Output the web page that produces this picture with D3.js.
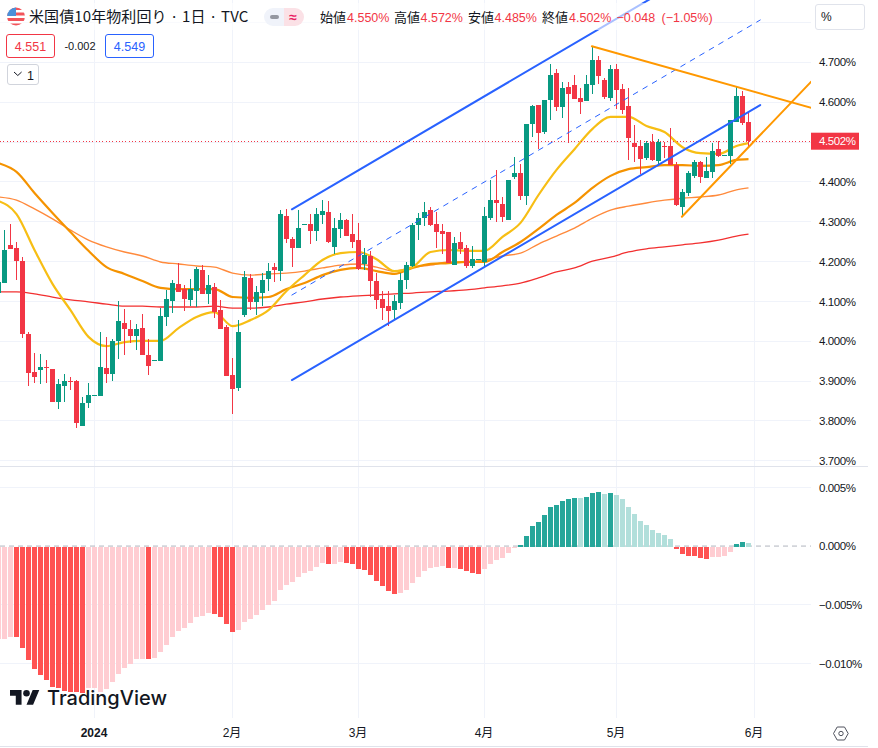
<!DOCTYPE html>
<html lang="ja"><head><meta charset="utf-8">
<script src="https://d3js.org/d3.v7.min.js"></script>
<style>
html,body{margin:0;padding:0;background:#fff}
svg{display:block}
text{font-family:"Liberation Sans","Noto Sans CJK JP",sans-serif}
</style></head><body>
<svg id="c" width="878" height="748"></svg>
<script>
const open=[4.121,4.146,4.242,4.234,4.201,4.018,3.923,3.928,3.935,3.930,3.847,3.888,3.900,3.900,3.787,3.845,3.863,3.863,3.933,3.918,4.001,4.046,4.031,4.013,4.033,3.965,3.950,3.950,4.061,4.101,4.144,4.131,4.104,4.126,4.179,4.119,4.136,4.078,4.036,3.915,3.883,4.066,4.159,4.099,4.121,4.156,4.186,4.176,4.314,4.257,4.234,4.292,4.294,4.277,4.317,4.324,4.237,4.282,4.304,4.269,4.254,4.194,4.214,4.151,4.106,4.088,4.078,4.096,4.154,4.189,4.292,4.309,4.329,4.294,4.277,4.274,4.191,4.249,4.234,4.189,4.204,4.199,4.309,4.354,4.344,4.304,4.412,4.422,4.365,4.545,4.593,4.525,4.605,4.673,4.588,4.638,4.643,4.610,4.603,4.643,4.706,4.656,4.610,4.683,4.633,4.590,4.497,4.490,4.460,4.500,4.452,4.490,4.490,4.442,4.337,4.372,4.415,4.450,4.410,4.425,4.482,4.465,4.465,4.550,4.615,4.550];
const high=[4.174,4.279,4.294,4.249,4.211,4.023,3.971,3.968,3.953,3.930,3.905,3.918,3.910,3.903,3.860,3.895,3.865,4.023,4.011,4.006,4.101,4.081,4.053,4.043,4.068,4.006,3.953,4.083,4.129,4.154,4.196,4.141,4.156,4.186,4.191,4.166,4.146,4.104,4.041,3.958,4.053,4.176,4.169,4.139,4.171,4.196,4.196,4.329,4.332,4.262,4.329,4.294,4.319,4.334,4.354,4.352,4.309,4.322,4.307,4.319,4.297,4.234,4.227,4.171,4.126,4.126,4.116,4.171,4.199,4.297,4.322,4.349,4.337,4.324,4.294,4.274,4.262,4.274,4.242,4.239,4.206,4.337,4.405,4.430,4.362,4.405,4.462,4.445,4.545,4.593,4.593,4.605,4.696,4.683,4.651,4.651,4.668,4.635,4.668,4.741,4.716,4.661,4.693,4.696,4.646,4.635,4.543,4.505,4.502,4.520,4.507,4.500,4.535,4.450,4.382,4.427,4.455,4.452,4.462,4.497,4.502,4.467,4.555,4.638,4.628,4.572];
const low=[4.106,4.146,4.232,4.154,4.008,3.888,3.895,3.893,3.895,3.847,3.830,3.847,3.878,3.782,3.787,3.832,3.863,3.863,3.895,3.900,3.955,3.965,3.996,3.978,3.965,3.915,3.950,3.950,4.038,4.071,4.124,4.076,4.088,4.086,4.119,4.093,4.058,4.031,3.913,3.817,3.875,4.061,4.078,4.066,4.088,4.126,4.149,4.151,4.247,4.186,4.234,4.292,4.244,4.252,4.294,4.247,4.219,4.259,4.264,4.234,4.179,4.179,4.111,4.081,4.053,4.038,4.056,4.081,4.131,4.186,4.254,4.289,4.289,4.234,4.219,4.196,4.191,4.219,4.184,4.184,4.204,4.189,4.304,4.299,4.299,4.304,4.407,4.354,4.342,4.513,4.482,4.520,4.555,4.578,4.560,4.497,4.608,4.570,4.603,4.620,4.646,4.608,4.603,4.583,4.570,4.455,4.450,4.420,4.455,4.452,4.440,4.460,4.442,4.339,4.314,4.365,4.410,4.397,4.410,4.410,4.462,4.465,4.445,4.550,4.543,4.485];
const close=[4.149,4.229,4.232,4.201,4.018,3.920,3.910,3.935,3.933,3.847,3.893,3.900,3.898,3.795,3.845,3.865,3.865,3.935,3.918,4.001,4.051,4.031,4.013,4.031,3.965,3.938,3.953,4.063,4.106,4.146,4.124,4.106,4.131,4.181,4.119,4.141,4.073,4.031,3.913,3.880,4.023,4.161,4.099,4.124,4.154,4.176,4.179,4.319,4.257,4.234,4.284,4.294,4.277,4.319,4.327,4.249,4.284,4.304,4.264,4.249,4.181,4.216,4.151,4.104,4.083,4.076,4.101,4.154,4.191,4.292,4.309,4.324,4.292,4.274,4.269,4.196,4.247,4.232,4.189,4.206,4.206,4.314,4.354,4.347,4.312,4.405,4.422,4.365,4.545,4.590,4.523,4.605,4.668,4.588,4.635,4.620,4.608,4.600,4.646,4.706,4.666,4.613,4.683,4.630,4.580,4.510,4.487,4.457,4.497,4.455,4.500,4.487,4.442,4.342,4.375,4.422,4.450,4.412,4.427,4.477,4.465,4.467,4.555,4.615,4.548,4.502];

// moving averages, read at every third bar plus the last bar
const maBars=d3.range(0,124,3).concat([125]);
const maYellow=[4.352,4.319,4.229,4.144,4.078,4.011,3.988,3.998,4.001,4.001,4.033,4.061,4.073,4.038,4.053,4.078,4.126,4.166,4.204,4.221,4.224,4.206,4.176,4.186,4.224,4.229,4.227,4.227,4.262,4.297,4.367,4.430,4.482,4.533,4.563,4.563,4.540,4.525,4.487,4.472,4.470,4.490,4.497];
const maOrange=[4.447,4.425,4.372,4.322,4.274,4.227,4.186,4.169,4.151,4.134,4.131,4.131,4.131,4.111,4.109,4.111,4.131,4.146,4.166,4.179,4.184,4.176,4.169,4.184,4.194,4.196,4.199,4.199,4.224,4.249,4.282,4.317,4.347,4.385,4.415,4.432,4.437,4.442,4.442,4.440,4.442,4.455,4.457];
const maThin=[4.362,4.354,4.332,4.307,4.279,4.254,4.237,4.224,4.214,4.199,4.194,4.189,4.186,4.171,4.166,4.169,4.171,4.176,4.184,4.191,4.194,4.186,4.176,4.186,4.191,4.199,4.199,4.204,4.214,4.221,4.244,4.264,4.284,4.309,4.329,4.339,4.347,4.354,4.359,4.362,4.367,4.380,4.385];
const maRed=[4.124,4.124,4.119,4.111,4.104,4.099,4.093,4.088,4.088,4.086,4.086,4.086,4.088,4.083,4.083,4.086,4.093,4.099,4.106,4.111,4.114,4.116,4.119,4.121,4.124,4.126,4.129,4.134,4.139,4.146,4.159,4.174,4.184,4.201,4.211,4.224,4.232,4.237,4.242,4.247,4.254,4.264,4.269];

const hist=[-0.00790,-0.00790,-0.00778,-0.00778,-0.00866,-0.00969,-0.01045,-0.01097,-0.01139,-0.01199,-0.01210,-0.01233,-0.01241,-0.01241,-0.01250,-0.01207,-0.01207,-0.01241,-0.01216,-0.01156,-0.01088,-0.01037,-0.01003,-0.00960,-0.00960,-0.00960,-0.00952,-0.00900,-0.00841,-0.00773,-0.00721,-0.00696,-0.00653,-0.00602,-0.00594,-0.00568,-0.00577,-0.00602,-0.00662,-0.00730,-0.00713,-0.00645,-0.00619,-0.00585,-0.00542,-0.00500,-0.00466,-0.00372,-0.00329,-0.00304,-0.00261,-0.00227,-0.00210,-0.00176,-0.00142,-0.00151,-0.00151,-0.00133,-0.00142,-0.00151,-0.00193,-0.00202,-0.00244,-0.00295,-0.00338,-0.00381,-0.00406,-0.00398,-0.00372,-0.00312,-0.00261,-0.00210,-0.00185,-0.00176,-0.00168,-0.00185,-0.00185,-0.00193,-0.00210,-0.00227,-0.00236,-0.00193,-0.00151,-0.00116,-0.00099,-0.00057,-0.00014,0.00005,0.00088,0.00173,0.00207,0.00267,0.00335,0.00352,0.00386,0.00403,0.00412,0.00412,0.00420,0.00454,0.00463,0.00446,0.00454,0.00437,0.00403,0.00335,0.00275,0.00216,0.00182,0.00139,0.00114,0.00097,0.00062,-0.00023,-0.00065,-0.00082,-0.00082,-0.00099,-0.00108,-0.00091,-0.00091,-0.00082,-0.00048,0.00020,0.00037,0.00028];
// 1 = strong colour, 0 = pale colour
const histStrong=("000"+"111111111111"+"0000000000"+"1"+"0000000000"+"1111"+"000000000000000"+"1"+"00"+"111111111"+"00000000"+"1"+"0"+"1111"+"000000"+"1111111111"+"0"+"111"+"0"+"1"+"0000000000"+"111111"+"0000"+"11"+"0").split("").map(Number);

const priceTicks=[4.7,4.6,4.5,4.4,4.3,4.2,4.1,4.0,3.9,3.8,3.7];
const priceGrid=[4.8,4.7,4.6,4.5,4.4,4.3,4.2,4.1,4.0,3.9,3.8,3.7];
const histTicks=[0.005,0,-0.005,-0.01];
const monthBars=[16,39,60,81,103,126];
const monthLabels=["2024","2月","3月","4月","5月","6月"];

const channelTop=[[48.9,4.3311],[108.6,4.8588]];
const channelMid=[[48.9,4.1160],[126.95,4.8061]];
const channelLow=[[48.9,3.9027],[126.95,4.5928]];
const wedgeTop=[[98.9,4.7401],[135.45,4.5860]];
const wedgeUp=[[113.9,4.3125],[135.45,4.6513]];

const ohlcTexts=[["始値",320,0],["4.550%",347,1],["高値",394,0],["4.572%",420.5,1],["安値",468,0],["4.485%",494.5,1],["終値",542,0],["4.502%",569,1],["−0.048",616.5,1],["(−1.05%)",661.5,1]];

const RED="#F23645",GREEN="#089981",BLUE="#2962FF",ORANGE="#FF9800",GRID="#F0F3FA",INK="#131722";
const svg=d3.select("#c");
const paneR=811;
const x=d3.scaleLinear().domain([0,125]).range([-1.5,748.5]);
const y=d3.scaleLinear().domain([4.7,3.7]).range([62.3,460.8]);
const h=d3.scaleLinear().domain([0.005,-0.01]).range([487.4,663.4]);
const defs=svg.append("defs");
defs.append("clipPath").attr("id","pMain").append("rect").attr("x",0).attr("y",0).attr("width",paneR).attr("height",466);
defs.append("clipPath").attr("id","pHist").append("rect").attr("x",0).attr("y",467).attr("width",paneR).attr("height",252);
defs.append("clipPath").attr("id","flag").append("circle").attr("cx",16).attr("cy",16.5).attr("r",9);

// grid
const grid=svg.append("g").attr("stroke",GRID).attr("stroke-width",1).attr("shape-rendering","crispEdges");
grid.selectAll("line.m").data(monthBars).join("line").attr("x1",d=>Math.floor(x(d))+.5).attr("x2",d=>Math.floor(x(d))+.5).attr("y1",0).attr("y2",718);
grid.selectAll("line.p").data(priceGrid).join("line").attr("x1",0).attr("x2",paneR).attr("y1",d=>Math.floor(y(d))+.5).attr("y2",d=>Math.floor(y(d))+.5);
grid.selectAll("line.h").data(histTicks.filter(d=>d!==0)).join("line").attr("x1",0).attr("x2",paneR).attr("y1",d=>Math.floor(h(d))+.5).attr("y2",d=>Math.floor(h(d))+.5);

// main pane
const main=svg.append("g").attr("clip-path","url(#pMain)");
const maLine=d3.line().x((d,i)=>x(maBars[i])).y(d=>y(d)).curve(d3.curveMonotoneX);
[[maRed,"#F23030",1.3],[maThin,"#FF8A3C",1.4],[maOrange,"#F59300",2.2],[maYellow,"#F7BE14",2.2]].forEach(([s,c,w])=>{
  main.append("path").datum(s).attr("d",maLine).attr("fill","none").attr("stroke",c).attr("stroke-width",w);
});
main.append("line").attr("x1",0).attr("x2",paneR).attr("y1",Math.floor(y(close[125]))+.5).attr("y2",Math.floor(y(close[125]))+.5).attr("stroke",RED).attr("stroke-dasharray","1 2.3").attr("shape-rendering","crispEdges");
const idx=d3.range(open.length);
const col=i=>close[i]>=open[i]?GREEN:RED;
const cg=main.append("g").attr("shape-rendering","crispEdges");
cg.selectAll("rect.w").data(idx).join("rect").attr("class","w").attr("x",i=>Math.floor(x(i))).attr("width",1).attr("y",i=>y(high[i])).attr("height",i=>y(low[i])-y(high[i])).attr("fill",col);
cg.selectAll("rect.b").data(idx).join("rect").attr("class","b").attr("x",i=>Math.floor(x(i))-2).attr("width",5)
  .attr("y",i=>y(Math.max(open[i],close[i]))).attr("height",i=>Math.max(1,Math.abs(y(open[i])-y(close[i])))).attr("fill",col);
const trend=d3.line().x(d=>x(d[0])).y(d=>y(d[1]));
[[channelTop,BLUE,2,null],[channelLow,BLUE,2,null],[channelMid,BLUE,1,"5 6"],[wedgeTop,ORANGE,2,null],[wedgeUp,ORANGE,2,null]].forEach(([s,c,w,da])=>{
  main.append("path").datum(s).attr("d",trend).attr("fill","none").attr("stroke",c).attr("stroke-width",w).attr("stroke-dasharray",da).attr("stroke-linecap","round");
});

// histogram pane
const hp=svg.append("g").attr("clip-path","url(#pHist)");
hp.append("line").attr("x1",0).attr("x2",paneR).attr("y1",h(0)).attr("y2",h(0)).attr("stroke","#B2B5BE").attr("stroke-dasharray","5 4");
const hc=i=>hist[i]>=0?(histStrong[i]?"#26A69A":"#B2DFDB"):(histStrong[i]?"#FF5252":"#FFCDD2");
hp.append("g").attr("shape-rendering","crispEdges").selectAll("rect").data(idx).join("rect")
  .attr("x",i=>Math.floor(x(i))-2).attr("width",5)
  .attr("y",i=>hist[i]>=0?h(hist[i]):h(0)+.5)
  .attr("height",i=>Math.max(1,Math.abs(h(hist[i])-h(0))+(hist[i]>=0?1:-.5)))
  .attr("fill",hc);

// separators
svg.append("g").attr("stroke","#E0E3EB").attr("shape-rendering","crispEdges").call(g=>{
  g.append("line").attr("x1",0).attr("x2",868).attr("y1",466.5).attr("y2",466.5);
  g.append("line").attr("x1",0).attr("x2",868).attr("y1",746.5).attr("y2",746.5);
});

// axes
const axisFont=g=>{g.select(".domain").remove();g.selectAll(".tick line").remove();
  g.selectAll("text").attr("fill",INK).style("font-size","11.5px").style("letter-spacing","-0.4px").style("font-family",'"Liberation Sans","Noto Sans CJK JP",sans-serif');};
svg.append("g").attr("transform","translate(819,0)").call(d3.axisRight(y).tickValues(priceTicks).tickSize(0).tickPadding(0).tickFormat(d=>d.toFixed(3)+"%")).call(axisFont);
svg.append("g").attr("transform","translate(819,0)").call(d3.axisRight(h).tickValues(histTicks).tickSize(0).tickPadding(0).tickFormat(d=>(d<0?"−":"")+Math.abs(d).toFixed(3)+"%")).call(axisFont);
svg.append("g").attr("transform","translate(-1,728.5)").call(d3.axisBottom(x).tickValues(monthBars).tickSize(0).tickPadding(0).tickFormat((d,i)=>monthLabels[i])).call(axisFont)
  .call(g=>g.selectAll(".tick text").style("letter-spacing","0").style("font-size","12px"))
  .call(g=>g.selectAll(".tick text").filter((d,i)=>i===0).style("font-weight","700"));

// price tag
svg.append("rect").attr("x",paneR).attr("y",y(close[125])-8.5).attr("width",48).attr("height",17).attr("fill",RED);
svg.append("text").attr("x",819).attr("y",y(close[125])+4.1).attr("fill","#fff").attr("font-size",11.5).style("letter-spacing","-0.4px").text(close[125].toFixed(3)+"%");

// legend veil, header
svg.append("rect").attr("x",0).attr("y",3).attr("width",714).attr("height",27).attr("fill","#fff").attr("opacity",.6);
const fl=svg.append("g").attr("clip-path","url(#flag)");
fl.append("rect").attr("x",7).attr("y",7).attr("width",18).attr("height",19).attr("fill","#fff");
fl.selectAll("rect.s").data([7.5,13,18.5,24]).join("rect").attr("class","s").attr("x",7).attr("y",d=>d-0.5).attr("width",18).attr("height",3).attr("fill","#F2545B");
fl.append("rect").attr("x",7).attr("y",7).attr("width",9).attr("height",9).attr("fill","#4A90D9");
svg.append("text").attr("x",29).attr("y",22).attr("fill",INK).attr("font-size",15).style("letter-spacing","0.1px").style("font-family",'"Noto Sans CJK JP",sans-serif').text("米国債10年物利回り · 1日 · TVC");
svg.append("path").attr("d","M273 8H284V26H273A9 9 0 0 1 273 8Z").attr("fill","#F0F3FA");
svg.append("path").attr("d","M284 8H295A9 9 0 0 1 295 26H284Z").attr("fill","#FBE1E6");
svg.append("rect").attr("x",270).attr("y",15).attr("width",9).attr("height",4).attr("rx",2).attr("fill","#9598A1");
svg.append("text").attr("x",293).attr("y",21.5).attr("text-anchor","middle").attr("fill","#E91E63").attr("font-size",14).attr("font-weight",700).text("≈");
svg.append("g").selectAll("text").data(ohlcTexts).join("text").attr("x",d=>d[1]).attr("y",21.5)
  .attr("fill",d=>d[2]?RED:INK).attr("font-size",d=>d[2]?12.5:13)
  .style("font-family",d=>d[2]?'"Liberation Sans",sans-serif':'"Noto Sans CJK JP",sans-serif').text(d=>d[0]);
const box=(x0,y0,w,ht,c)=>svg.append("rect").attr("x",x0).attr("y",y0).attr("width",w).attr("height",ht).attr("rx",2.5).attr("fill","#fff").attr("stroke",c);
box(6.5,34.5,48,23,RED);box(105.5,34.5,48,23,BLUE);box(7.5,64.5,31,20,"#D1D4DC");box(815.5,4.5,49,25,"#E0E3EB");
svg.append("text").attr("x",30.5).attr("y",51).attr("text-anchor","middle").attr("fill",RED).attr("font-size",12.5).text("4.551");
svg.append("text").attr("x",129.5).attr("y",51).attr("text-anchor","middle").attr("fill",BLUE).attr("font-size",12.5).text("4.549");
svg.append("text").attr("x",80).attr("y",50).attr("text-anchor","middle").attr("fill",INK).attr("font-size",11).text("-0.002");
svg.append("path").attr("d","M14 72l3.8 3.5 3.8-3.5").attr("fill","none").attr("stroke",INK);
svg.append("text").attr("x",27).attr("y",80).attr("fill",INK).attr("font-size",12.5).text("1");
svg.append("text").attr("x",821).attr("y",21).attr("fill",INK).attr("font-size",12).text("%");

// gear
svg.append("path").attr("d","M833.5 733.5l3.7-6.5h7.3l3.7 6.5-3.7 6.5h-7.3z").attr("fill","none").attr("stroke","#50535E");
svg.append("circle").attr("cx",841).attr("cy",733.5).attr("r",2.2).attr("fill","none").attr("stroke","#50535E");

// logo
const logo=svg.append("g").attr("transform","translate(10,686.7) scale(.825)").attr("fill",INK);
logo.append("path").attr("d","M14 22H7V11H0V4h14v18zM28 22h-8l7.5-18h8L28 22z");
logo.append("circle").attr("cx",20).attr("cy",8).attr("r",4);
svg.append("text").attr("x",47).attr("y",705).attr("fill",INK).attr("font-size",20).attr("font-weight",500).style("font-family","Inter,sans-serif").text("TradingView");
</script></body></html>
